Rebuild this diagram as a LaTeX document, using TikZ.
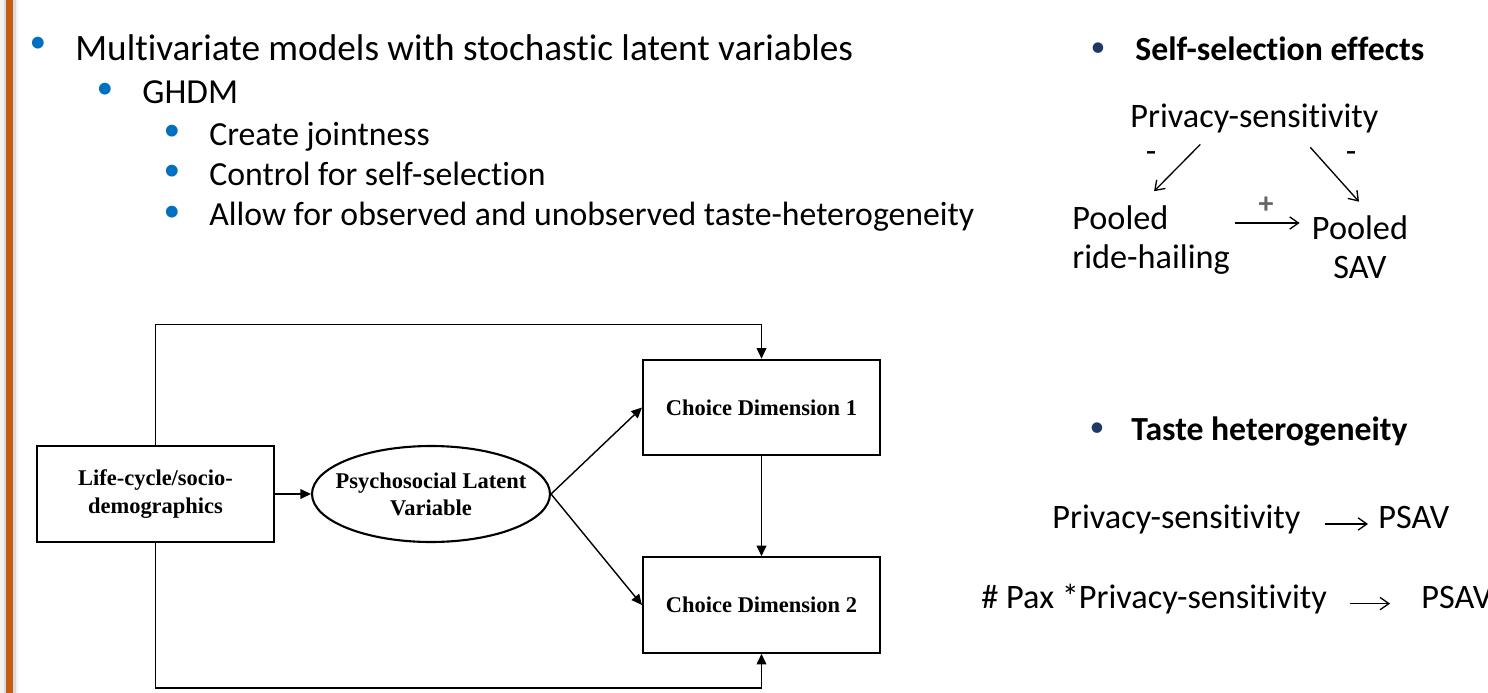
\documentclass[tikz,border=0pt]{standalone}
\usepackage{fontspec}
\setmainfont{Carlito}[Ligatures=NoCommon]
\newfontfamily\timesfont{Liberation Serif}
\usetikzlibrary{positioning}
\usetikzlibrary{shapes.geometric}
\usetikzlibrary{arrows.meta}
\definecolor{bulletblue}{HTML}{0070C0}
\definecolor{bulletnavy}{HTML}{203864}
\definecolor{slideorange}{HTML}{C55A11}

\tikzset{
    dot/.style={text=bulletblue, inner sep=0pt, font=\fontsize{19}{20}\selectfont},
    navydot/.style={dot, text=bulletnavy, font=\fontsize{17}{18}\selectfont},
    lvlone/.style={anchor=base west, inner sep=0pt, font=\fontsize{21.2}{25}\selectfont},
    lvltwo/.style={anchor=base west, inner sep=0pt, font=\fontsize{20}{24}\selectfont},
    lvlthree/.style={anchor=base west, inner sep=0pt, font=\fontsize{19.2}{23}\selectfont},
    side/.style={inner sep=0pt, font=\fontsize{19.5}{22}\selectfont},
    sidehead/.style={anchor=base west, inner sep=0pt, font=\bfseries\fontsize{19.2}{23}\selectfont},
    sidearr/.style={-{Straight Barb[length=5pt,width=7pt]}, line width=0.75pt},
    blockbox/.style={draw, line width=1.2pt, minimum width=4.74cm, minimum height=1.91cm,
        align=center, font=\timesfont\bfseries\fontsize{12.8}{15.5}\selectfont},
    latentbox/.style={blockbox, ellipse, minimum width=4.76cm, minimum height=1.92cm,
        inner xsep=-0.3cm, inner ysep=0pt},
    conn/.style={-{Triangle[length=6pt,width=5.5pt]}, line width=0.8pt}
}

\begin{document}
\begin{tikzpicture}[x=0.02cm, y=-0.02cm]
    \useasboundingbox (0,0) rectangle (1488,693);
    % slide edge
    \fill[gray!10] (0,0) rectangle (18,693);
    \fill[gray!30] (4,0) rectangle (16,693);
    \fill[slideorange] (6,0) rectangle (12.7,693);

    % bullet list
    \node[dot] (b1) at (38,45) {•};
    \node[lvlone] (t1) at (75,60) {Multivariate models with stochastic latent variables};
    \node[dot] (b2) at (105,91) {•};
    \node[lvltwo] (t2) at (142,103) {GHDM};
    \node[dot] (b3) at (172,133) {•};
    \node[lvlthree] (t3) at (209,145) {Create jointness};
    \node[dot] (b4) at (172,173) {•};
    \node[lvlthree] (t4) at (209,185) {Control for self-selection};
    \node[dot] (b5) at (172,214) {•};
    \node[lvlthree] (t5) at (209,225) {Allow for observed and unobserved taste-heterogeneity};

    % self-selection
    \node[navydot] (b6) at (1098,50) {•};
    \node[sidehead] (selfsel) at (1135,60) {Self-selection effects};
    \node[side, anchor=base west] (priv) at (1130,127) {Privacy-sensitivity};
    \node[side, anchor=base west, align=left] (poolrh) at (1072,268) {Pooled\\ride-hailing};
    \node[side, anchor=base, align=center] (poolsav) at (1360,278) {Pooled\\SAV};
    \node[side] (minusa) at (1151,157) {-};
    \node[side] (minusb) at (1351,157) {-};
    \node[side, text=gray!80!black, font=\bfseries\fontsize{17}{18}\selectfont] (plus) at (1266,205) {+};
    \draw[sidearr] ([shift={(-54,11.5)}]priv.south) -- ([shift={(3,-14)}]poolrh.north);
    \draw[sidearr] ([shift={(56,14.5)}]priv.south) -- ([shift={(-1,-13.5)}]poolsav.north);
    \draw[sidearr] ([shift={(5,18)}]plus.center -| poolrh.east) -- ([shift={(-12,18)}]plus.center -| poolsav.west);

    % taste heterogeneity
    \node[navydot] (b7) at (1097,430) {•};
    \node[sidehead] (taste) at (1131,440) {Taste heterogeneity};
    \node[side, anchor=base west] (privb) at (1052,528) {Privacy-sensitivity};
    \node[side, anchor=base west] (psava) at (1378,528) {PSAV};
    \node[side, anchor=base west] (pax) at (981,608) {\# Pax *Privacy-sensitivity};
    \node[side, anchor=base west] (psavb) at (1421,608) {PSAV};
    \draw[sidearr, shorten <=0.48cm, shorten >=0.2cm] ([yshift=-0.1cm]privb.east) -- ([yshift=-0.1cm]privb.east -| psava.west);
    \draw[sidearr, shorten <=0.45cm, shorten >=0.62cm] ([yshift=-0.1cm]pax.east) -- ([yshift=-0.1cm]pax.east -| psavb.west);

    % GHDM diagram
    \node[blockbox] (lc) at (155.5,494) {Life-cycle/socio-\\demographics};
    \node[latentbox] (latent) at (431,494) {Psychosocial Latent\\Variable};
    \node[blockbox] (cone) at (761.5,407.5) {Choice Dimension 1};
    \node[blockbox] (ctwo) at (761.5,605) {Choice Dimension 2};

    \draw[conn] (lc) -- (latent);
    \draw[conn] (latent.east) -- (cone.west);
    \draw[conn] (latent.east) -- (ctwo.west);
    \draw[conn] (cone) -- (ctwo);
    \draw[conn] (lc.north) -- ++(0,-121) -| (cone.north);
    \draw[conn] (lc.south) -- ++(0,145) -| (ctwo.south);
\end{tikzpicture}
\end{document}
